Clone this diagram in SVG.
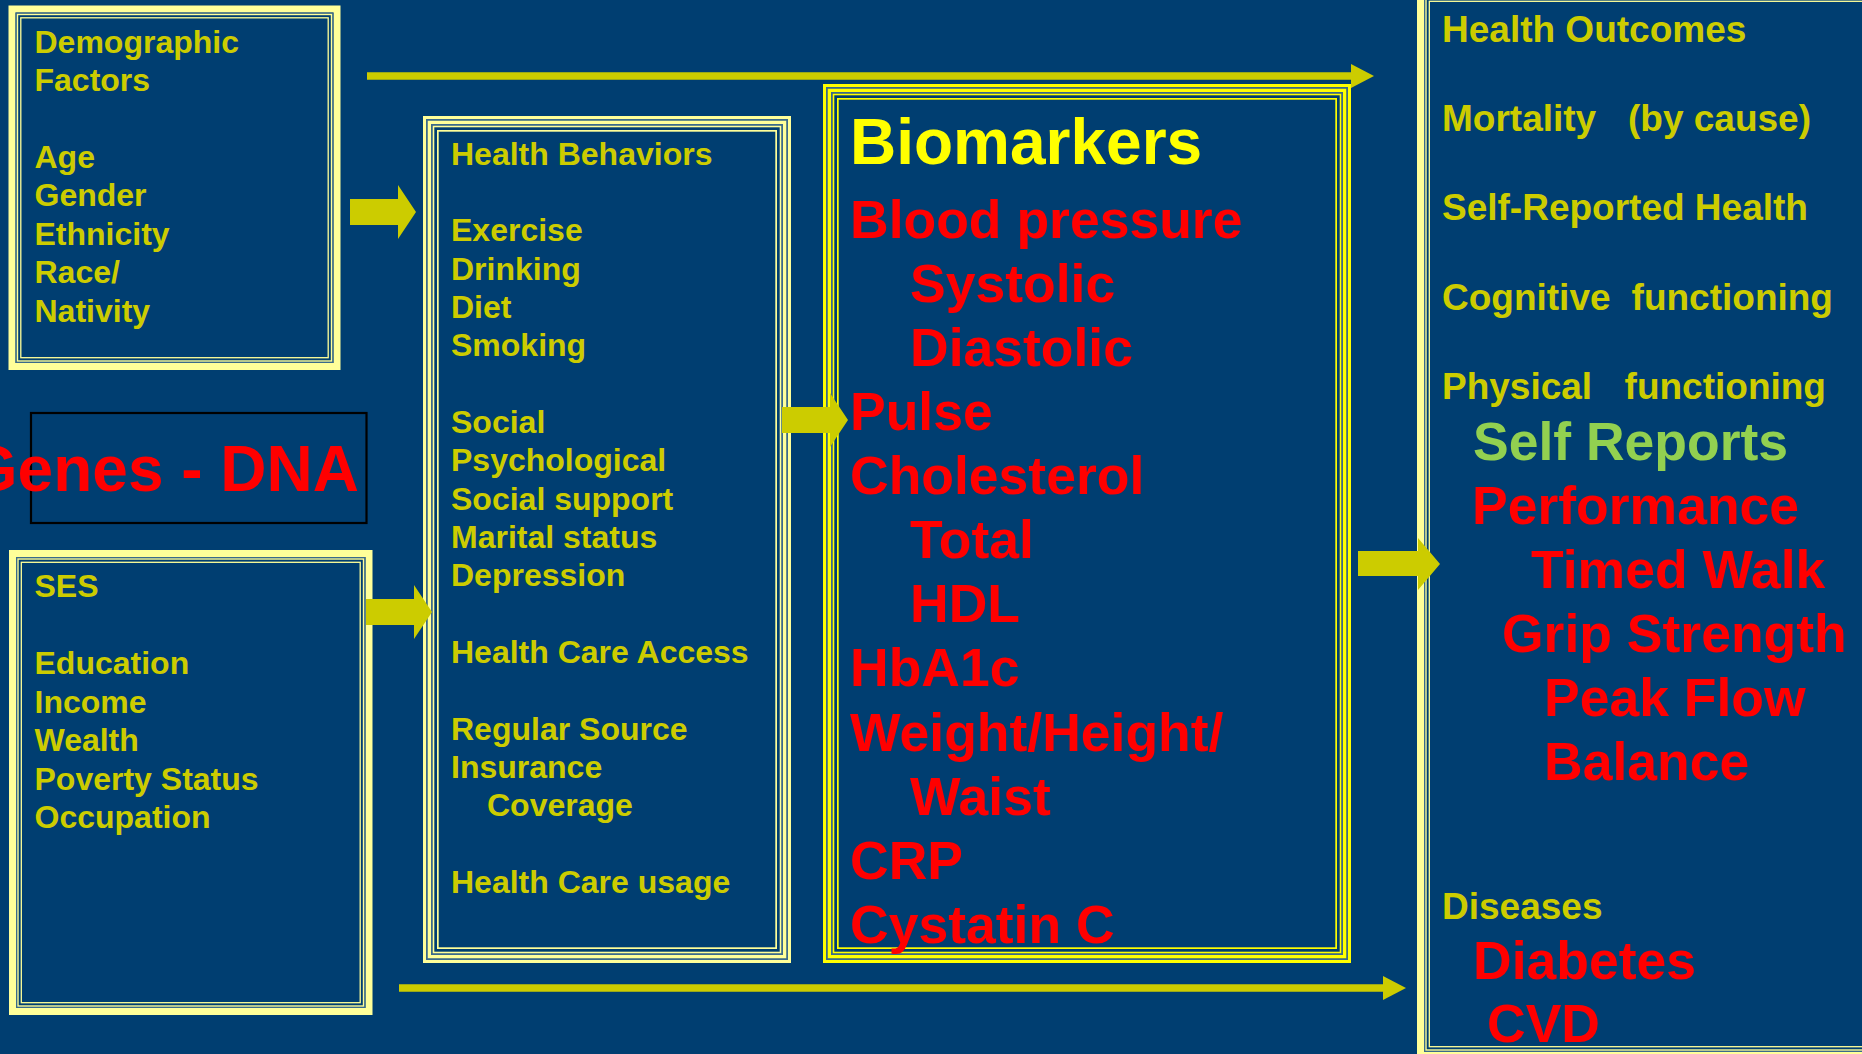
<svg xmlns="http://www.w3.org/2000/svg" width="1862" height="1054" viewBox="0 0 1862 1054">
<defs>
<style>
.bg{fill:#003E71}
.pa{fill:none;stroke:#FFFF99}
.yb{fill:none;stroke:#FFFF00}
.gr{fill:none;stroke:#3A6A8C}
.t{font-family:"Liberation Sans",Arial,Helvetica,sans-serif;font-weight:bold}
.y32{font-size:32px;fill:#CCCC00}
.y36{font-size:37px;fill:#CCCC00}
.r53{font-size:53.5px;fill:#FF0000}
.g53{font-size:53.5px;fill:#92D050}
.ttl{font-size:64px;fill:#FFFF00}
.arr{fill:#CCCC00}
.ln{stroke:#CCCC00;stroke-width:7.5;fill:none}
</style>
</defs>
<rect class="bg" x="0" y="0" width="1862" height="1054"/>

<g id="demographic">
<rect class="pa" stroke-width="7" x="12" y="9" width="325" height="357.5"/>
<rect class="gr" stroke-width="1.3" x="16.15" y="13.15" width="316.7" height="349.2"/>
<rect class="pa" stroke-width="1.4" x="17.5" y="14.5" width="314" height="346.5"/>
<rect class="pa" stroke-width="1.3" x="20.8" y="17.8" width="307.4" height="339.9"/>
<text class="t y32" x="34.5" y="52.7">Demographic</text>
<text class="t y32" x="34.5" y="91.1">Factors</text>
<text class="t y32" x="34.5" y="167.9">Age</text>
<text class="t y32" x="34.5" y="206.3">Gender</text>
<text class="t y32" x="34.5" y="244.7">Ethnicity</text>
<text class="t y32" x="34.5" y="283.1">Race/</text>
<text class="t y32" x="34.5" y="321.5">Nativity</text>
</g>

<g id="genes">
<rect x="31" y="413" width="335.5" height="110" fill="none" stroke="#000000" stroke-width="2.2"/>
<text class="t" x="359" y="490.5" text-anchor="end" style="font-size:64px;fill:#FF0000">Genes - DNA</text>
</g>

<g id="ses">
<rect class="pa" stroke-width="7" x="12.5" y="553.5" width="356.5" height="458"/>
<rect class="gr" stroke-width="1.3" x="16.65" y="557.65" width="348.2" height="449.7"/>
<rect class="pa" stroke-width="1.4" x="18" y="559" width="345.5" height="447"/>
<rect class="pa" stroke-width="1.3" x="21.3" y="562.3" width="338.9" height="440.4"/>
<text class="t y32" x="34.5" y="597">SES</text>
<text class="t y32" x="34.5" y="674">Education</text>
<text class="t y32" x="34.5" y="712.5">Income</text>
<text class="t y32" x="34.5" y="751">Wealth</text>
<text class="t y32" x="34.5" y="789.5">Poverty Status</text>
<text class="t y32" x="34.5" y="828">Occupation</text>
</g>

<g id="health-behaviors">
<rect class="pa" stroke-width="3" x="424.5" y="117.5" width="365" height="844"/>
<rect class="gr" stroke-width="1.7" x="426.85" y="119.85" width="360.3" height="839.3"/>
<rect class="pa" stroke-width="3.3" x="429.35" y="122.35" width="355.3" height="834.3"/>
<rect class="gr" stroke-width="1.7" x="431.85" y="124.85" width="350.3" height="829.3"/>
<rect class="pa" stroke-width="1.6" x="433.5" y="126.5" width="347" height="826"/>
<rect class="pa" stroke-width="1.7" x="437.85" y="130.85" width="338.3" height="817.3"/>
<text class="t y32" x="451" y="164.5">Health Behaviors</text>
<text class="t y32" x="451" y="241.2">Exercise</text>
<text class="t y32" x="451" y="279.55">Drinking</text>
<text class="t y32" x="451" y="317.9">Diet</text>
<text class="t y32" x="451" y="356.25">Smoking</text>
<text class="t y32" x="451" y="432.95">Social</text>
<text class="t y32" x="451" y="471.3">Psychological</text>
<text class="t y32" x="451" y="509.65">Social support</text>
<text class="t y32" x="451" y="548">Marital status</text>
<text class="t y32" x="451" y="586.35">Depression</text>
<text class="t y32" x="451" y="663.05">Health Care Access</text>
<text class="t y32" x="451" y="739.75">Regular Source</text>
<text class="t y32" x="451" y="778.1">Insurance</text>
<text class="t y32" x="487" y="816.45">Coverage</text>
<text class="t y32" x="451" y="893.15">Health Care usage</text>
</g>

<g id="biomarkers">
<rect class="yb" stroke-width="3" x="824.5" y="85.5" width="525" height="876"/>
<rect class="gr" stroke-width="1.7" x="826.85" y="87.85" width="520.3" height="871.3"/>
<rect class="yb" stroke-width="3.3" x="829.35" y="90.35" width="515.3" height="866.3"/>
<rect class="gr" stroke-width="1.7" x="831.85" y="92.85" width="510.3" height="861.3"/>
<rect class="yb" stroke-width="1.6" x="833.5" y="94.5" width="507" height="858"/>
<rect class="yb" stroke-width="1.7" x="837.85" y="98.85" width="498.3" height="849.3"/>
<text class="t ttl" x="850" y="164">Biomarkers</text>
<text class="t r53" x="850" y="237.7">Blood pressure</text>
<text class="t r53" x="910" y="301.8">Systolic</text>
<text class="t r53" x="910" y="365.9">Diastolic</text>
<text class="t r53" x="850" y="430">Pulse</text>
<text class="t r53" x="850" y="494.1">Cholesterol</text>
<text class="t r53" x="910" y="558.2">Total</text>
<text class="t r53" x="910" y="622.3">HDL</text>
<text class="t r53" x="850" y="686.4">HbA1c</text>
<text class="t r53" x="850" y="750.5">Weight/Height/</text>
<text class="t r53" x="910" y="814.6">Waist</text>
<text class="t r53" x="850" y="878.7">CRP</text>
<text class="t r53" x="850" y="942.8">Cystatin C</text>
</g>

<g id="health-outcomes">
<rect class="pa" stroke-width="7" x="1420.5" y="-7.5" width="473" height="1063"/>
<rect class="gr" stroke-width="1.3" x="1424.65" y="-3.35" width="464.7" height="1054.7"/>
<rect class="pa" stroke-width="1.4" x="1426" y="-2" width="462" height="1052"/>
<rect class="pa" stroke-width="1.3" x="1429.3" y="1.3" width="455.4" height="1045.4"/>
<text class="t y36" x="1442" y="41.7">Health Outcomes</text>
<text class="t y36" y="130.7"><tspan x="1442">Mortality</tspan><tspan x="1617.7"> (by cause)</tspan></text>
<text class="t y36" x="1442" y="220">Self-Reported Health</text>
<text class="t y36" y="310"><tspan x="1442">Cognitive</tspan><tspan x="1621.3"> functioning</tspan></text>
<text class="t y36" y="399"><tspan x="1442">Physical</tspan><tspan x="1614.3"> functioning</tspan></text>
<text class="t g53" x="1473" y="460">Self Reports</text>
<text class="t r53" x="1472" y="524">Performance</text>
<text class="t r53" x="1531" y="588">Timed Walk</text>
<text class="t r53" x="1502" y="652">Grip Strength</text>
<text class="t r53" x="1544" y="716">Peak Flow</text>
<text class="t r53" x="1544" y="780">Balance</text>
<text class="t y36" x="1442" y="919">Diseases</text>
<text class="t r53" x="1473" y="979">Diabetes</text>
<text class="t r53" x="1487" y="1042">CVD</text>
</g>

<g id="connectors">
<line class="ln" x1="367" y1="76" x2="1352" y2="76"/>
<polygon class="arr" points="1351,64 1374,76 1351,88"/>
<line class="ln" x1="399" y1="988" x2="1384" y2="988"/>
<polygon class="arr" points="1383,976 1406,988 1383,1000"/>
<polygon class="arr" points="350,199 398,199 398,185 416,212 398,239 398,225 350,225"/>
<polygon class="arr" points="366,599 414,599 414,585 432,612 414,639 414,625 366,625"/>
<polygon class="arr" points="782,407 830,407 830,393 848,420 830,447 830,433 782,433"/>
<polygon class="arr" points="1358,551 1418,551 1418,538 1440,564 1418,590 1418,576 1358,576"/>
</g>
</svg>
